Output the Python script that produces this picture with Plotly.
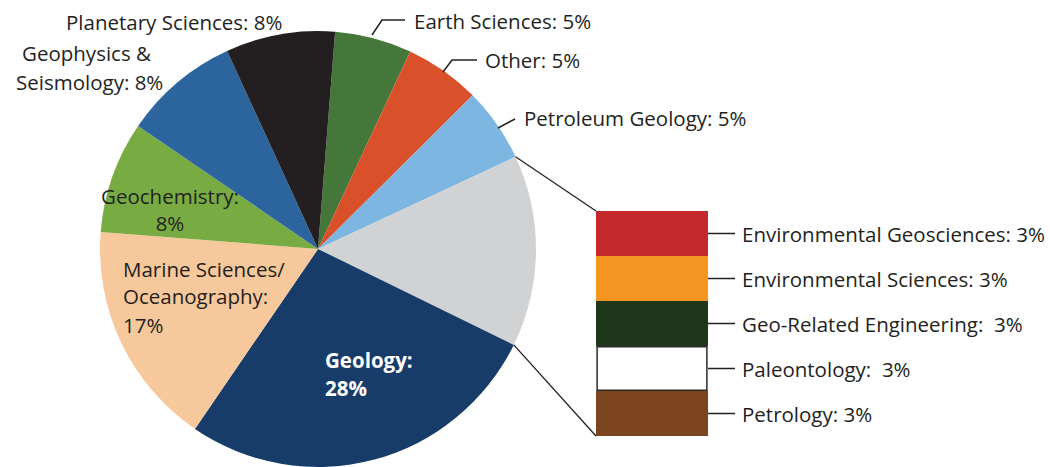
import math
import plotly.graph_objects as go

W, H = 1050, 467

# ---------------- data ----------------
pie_labels = ["Earth Sciences", "Other", "Petroleum Geology", "Other specialties", "Geology",
              "Marine Sciences/Oceanography", "Geochemistry", "Geophysics & Seismology",
              "Planetary Sciences"]
pie_values = [5.7, 5.6, 5.5, 14.2, 27.3, 16.7, 8.3, 8.6, 8.1]
pie_colors = ["#45763a", "#d9502a", "#7eb6e2", "#d1d2d4", "#173c69",
              "#f7c89b", "#78ac43", "#2c659e", "#231f20"]

bar_names = ["Petrology", "Paleontology", "Geo-Related Engineering",
             "Environmental Sciences", "Environmental Geosciences"]  # bottom to top
bar_values = [3, 3, 3, 3, 3]
bar_texts = ["Petrology: 3%", "Paleontology:\u00a0 3%", "Geo-Related Engineering:\u00a0 3%",
             "Environmental Sciences: 3%", "Environmental Geosciences: 3%"]
bar_colors = ["#7b441e", "#ffffff", "#1f361b", "#f49421", "#c3282a"]

# ---------------- layout helpers ----------------
FONT = "Open Sans"
FS = 20.5
TXT = "#231f20"


def px(x):
    return x / W


def py(y):
    return 1 - y / H


ROT = 4.5
PIE_CX, PIE_CY, PIE_R = 318, 249, 218

fig = go.Figure()
fig.add_trace(go.Pie(
    labels=pie_labels, values=pie_values, sort=False, direction="clockwise",
    rotation=ROT, textinfo="none", marker=dict(colors=pie_colors, line=dict(width=0)),
    domain=dict(x=[px(PIE_CX - PIE_R), px(PIE_CX + PIE_R)],
                y=[py(PIE_CY + PIE_R), py(PIE_CY - PIE_R)]),
    showlegend=False, hoverinfo="label+value"))

for name, v, c in zip(bar_names, bar_values, bar_colors):
    fig.add_trace(go.Bar(x=[0], y=[v], name=name, marker=dict(color=c, line=dict(width=0)),
                         showlegend=False, hoverinfo="name+y"))

BAR_X0, BAR_X1 = 596, 708
BAR_Y_TOP, BAR_Y_BOT = 211, 436
total_bar = sum(bar_values)
xdom = [px(BAR_X0), px(BAR_X1)]
ydom = [py(BAR_Y_BOT), py(BAR_Y_TOP)]

shapes = []
annotations = []

# outline for the white segment
cum = 0
for v, c in zip(bar_values, bar_colors):
    if c == "#ffffff":
        shapes.append(dict(type="rect", xref="x", yref="y", x0=-0.49, x1=0.49,
                           y0=cum + 0.05, y1=cum + v - 0.05,
                           line=dict(color="#2a2a2a", width=1.5), layer="above"))
    cum += v

# connector lines from the gray slice to the stacked bar
total = sum(pie_values)
gray_i = 3
a_start = ROT + 360 * sum(pie_values[:gray_i]) / total
a_end = ROT + 360 * sum(pie_values[:gray_i + 1]) / total


def edge(a):
    r = math.radians(a)
    return PIE_CX + PIE_R * math.sin(r), PIE_CY - PIE_R * math.cos(r)


def bar_yp(v):
    return ydom[0] + (v / total_bar) * (ydom[1] - ydom[0])


for ang, v in [(a_start, total_bar), (a_end, 0)]:
    ex, ey = edge(ang)
    shapes.append(dict(type="line", xref="paper", yref="paper", x0=px(ex), y0=py(ey),
                       x1=xdom[0], y1=bar_yp(v), line=dict(color=TXT, width=1.3)))

# bar labels and ticks
cum = 0
for v, t in zip(bar_values, bar_texts):
    mid = cum + v / 2
    cum += v
    shapes.append(dict(type="line", xref="paper", yref="y", x0=xdom[1], x1=px(735),
                       y0=mid, y1=mid, line=dict(color=TXT, width=1.5)))
    annotations.append(dict(text=t, xref="paper", yref="y", x=px(740), y=mid,
                            xanchor="left", yanchor="middle", showarrow=False,
                            font=dict(family=FONT, size=FS, color=TXT)))

# pie labels: (text, x, y_mid, anchor, color, bold)
pie_text = [
    ("Planetary Sciences: 8%", 174, 21.5, "center", TXT, False),
    ("Geophysics &", 86, 53, "center", TXT, False),
    ("Seismology: 8%", 89, 81.5, "center", TXT, False),
    ("Geochemistry:<br>8%", 170, 209.5, "center", TXT, False),
    ("Marine Sciences/", 121, 268.5, "left", TXT, False),
    ("Oceanography:", 121, 296, "left", TXT, False),
    ("17%", 121, 325, "left", TXT, False),
    ("Geology:", 323, 359.5, "left", "#ffffff", True),
    ("28%", 323, 388, "left", "#ffffff", True),
    ("Earth Sciences: 5%", 412, 21, "left", TXT, False),
    ("Other: 5%", 483, 60.5, "left", TXT, False),
    ("Petroleum Geology: 5%", 522, 117.5, "left", TXT, False),
]
for t, x, y, anc, col, bold in pie_text:
    annotations.append(dict(text=f"<b>{t}</b>" if bold else t, xref="paper", yref="paper",
                            x=px(x), y=py(y), xanchor=anc, yanchor="middle", showarrow=False,
                            align=anc,
                            font=dict(family=FONT, size=FS, color=col)))

leaders = [
    [(372, 35), (382, 20), (405, 20)],
    [(443, 72), (452, 60), (477, 60)],
    [(498, 128), (515, 119)],
]
for pts in leaders:
    path = "M " + " L ".join(f"{px(x):.5f},{py(y):.5f}" for x, y in pts)
    shapes.append(dict(type="path", xref="paper", yref="paper", path=path,
                       line=dict(color=TXT, width=1.5)))

fig.update_layout(
    width=W, height=H, margin=dict(l=0, r=0, t=0, b=0),
    paper_bgcolor="white", plot_bgcolor="white",
    barmode="stack", bargap=0,
    xaxis=dict(domain=xdom, range=[-0.5, 0.5], visible=False, fixedrange=True),
    yaxis=dict(domain=ydom, range=[0, total_bar], visible=False, fixedrange=True),
    shapes=shapes, annotations=annotations, showlegend=False,
    font=dict(family=FONT, size=FS, color=TXT),
)

fig.write_html("out.html", config={"displayModeBar": False},
               post_script="document.body.style.margin='0';")
